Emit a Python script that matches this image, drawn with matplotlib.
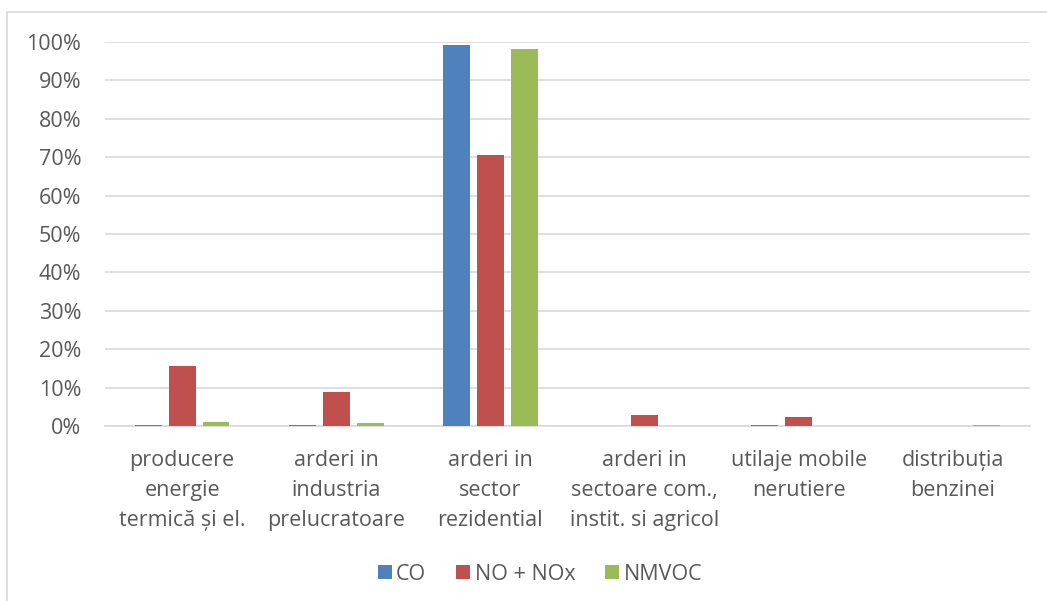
import numpy as np
import matplotlib.pyplot as plt
from matplotlib.patches import Rectangle
from matplotlib.ticker import PercentFormatter

plt.rcParams['font.family'] = ['Open Sans', 'DejaVu Sans']

# date: ponderea emisiilor pe surse
categorii = ['producere\nenergie\ntermică și el.',
             'arderi in\nindustria\nprelucratoare',
             'arderi in\nsector\nrezidential',
             'arderi in\nsectoare com.,\ninstit. si agricol',
             'utilaje mobile\nnerutiere',
             'distribuția\nbenzinei']
co = [0.2, 0.2, 99.2, 0.1, 0.2, 0.0]
nox = [15.6, 8.8, 70.6, 2.8, 2.4, 0.0]
nmvoc = [1.1, 0.7, 98.1, 0.1, 0.1, 0.2]
serii = ['CO', 'NO + NOx', 'NMVOC']
culori = ['#4F81BD', '#C0504D', '#9BBB59']

text_col = '#595959'
grid_col = '#D9D9D9'
fs = 15.5

fig = plt.figure(figsize=(10.47, 6.01), dpi=100)
ax = fig.add_axes([105 / 1047, 1 - 426 / 601, 925 / 1047, 384 / 601])

# chenarul diagramei
fig.patches.append(Rectangle((7 / 1047, -0.1), 1.2, 1 - 12 / 601 + 0.1,
                             transform=fig.transFigure, fill=False,
                             edgecolor=grid_col, linewidth=1.2))

x = np.arange(len(categorii))
w = 0.175
step = 0.22
for i, (vals, nume, c) in enumerate(zip([co, nox, nmvoc], serii, culori)):
    ax.bar(x + (i - 1) * step, vals, width=w, color=c, label=nume, zorder=3)

ax.set_xlim(-0.5, len(categorii) - 0.5)
ax.set_ylim(0, 100)
ax.set_yticks(np.arange(0, 101, 10))
ax.yaxis.set_major_formatter(PercentFormatter(decimals=0))
ax.grid(axis='y', color=grid_col, linewidth=1.2, zorder=0)
for s in ['top', 'right', 'left']:
    ax.spines[s].set_visible(False)
ax.spines['bottom'].set_color(grid_col)
ax.spines['bottom'].set_linewidth(1.2)

ax.set_xticks(x)
ax.set_xticklabels(categorii, linespacing=1.58)
ax.tick_params(axis='x', length=0, pad=17, labelsize=fs, labelcolor=text_col)
ax.tick_params(axis='y', length=0, pad=17, labelsize=fs, labelcolor=text_col)

leg = fig.legend(loc='center', bbox_to_anchor=(540 / 1047, 1 - 574 / 601),
                 ncol=3, frameon=False, fontsize=fs, handlelength=0.65,
                 handleheight=0.65, handletextpad=0.2, columnspacing=1.4)
for t in leg.get_texts():
    t.set_color(text_col)

fig.savefig('out.png', dpi=100)
